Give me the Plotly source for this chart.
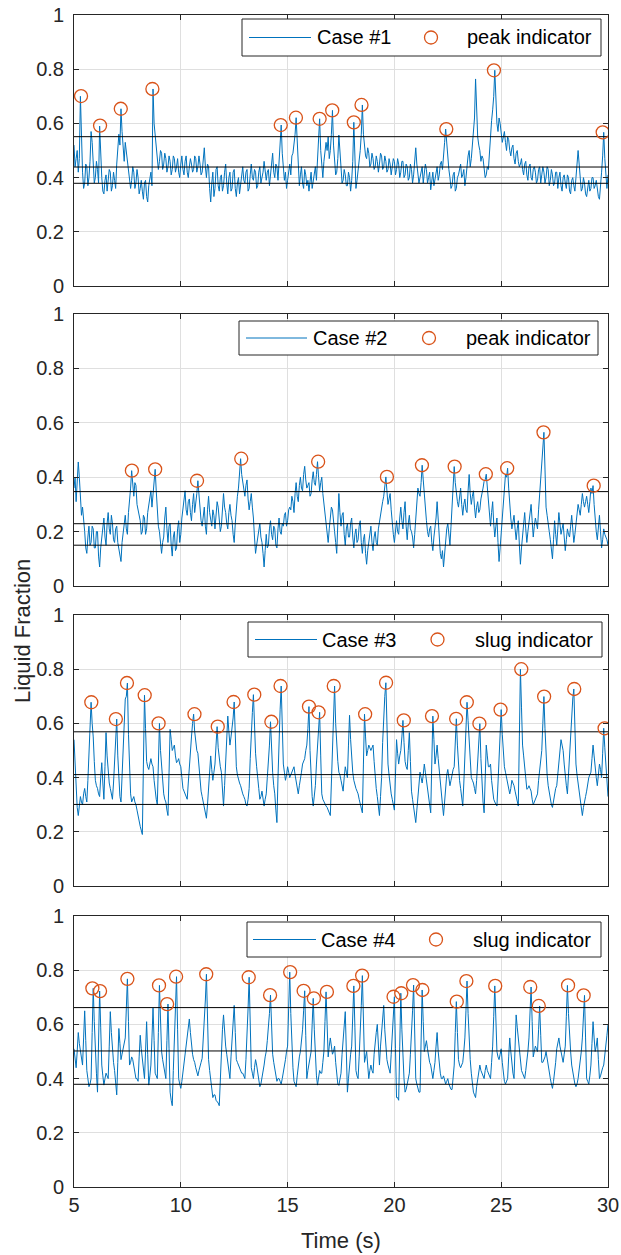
import plotly.graph_objects as go

# ---------------- data ----------------
# samples on the tenth of a second and on the half-tenths in between
time = [round(5.0 + 0.1 * i, 1) for i in range(251)]
time_half = [round(5.05 + 0.1 * i, 2) for i in range(250)]

case1 = [
    0.52, 0.47, 0.42, 0.70, 0.42, 0.38, 0.44, 0.40, 0.57, 0.45,
    0.40, 0.43, 0.59, 0.40, 0.34, 0.41, 0.38, 0.42, 0.37, 0.39,
    0.45, 0.56, 0.654, 0.50, 0.53, 0.47, 0.41, 0.39, 0.42, 0.38,
    0.40, 0.36, 0.35, 0.38, 0.33, 0.37, 0.42, 0.727, 0.55, 0.48,
    0.46, 0.49, 0.45, 0.47, 0.44, 0.46, 0.43, 0.47, 0.44, 0.42,
    0.45, 0.43, 0.46, 0.42, 0.44, 0.45, 0.43, 0.47, 0.44, 0.45,
    0.42, 0.51, 0.40, 0.44, 0.31, 0.42, 0.36, 0.44, 0.35, 0.41,
    0.37, 0.45, 0.34, 0.42, 0.36, 0.43, 0.33, 0.40, 0.37, 0.44,
    0.38, 0.43, 0.36, 0.45, 0.39, 0.42, 0.37, 0.44, 0.40, 0.46,
    0.39, 0.43, 0.41, 0.49, 0.40, 0.44, 0.47, 0.594, 0.44, 0.42,
    0.39, 0.45, 0.48, 0.52, 0.621, 0.45, 0.41, 0.38, 0.43, 0.37,
    0.35, 0.42, 0.39, 0.44, 0.48, 0.617, 0.44, 0.46, 0.53, 0.55,
    0.50, 0.648, 0.46, 0.42, 0.557, 0.44, 0.39, 0.41, 0.37, 0.40,
    0.39, 0.604, 0.36, 0.42, 0.50, 0.668, 0.52, 0.47, 0.49, 0.45,
    0.47, 0.44, 0.46, 0.45, 0.48, 0.44, 0.46, 0.43, 0.45, 0.44,
    0.46, 0.43, 0.45, 0.42, 0.46, 0.41, 0.44, 0.40, 0.43, 0.41,
    0.51, 0.42, 0.40, 0.44, 0.41, 0.43, 0.40, 0.355, 0.42, 0.40,
    0.44, 0.41, 0.46, 0.50, 0.579, 0.48, 0.40, 0.37, 0.42, 0.36,
    0.41, 0.45, 0.41, 0.37, 0.45, 0.50, 0.47, 0.55, 0.764, 0.55,
    0.50, 0.48, 0.44, 0.41, 0.43, 0.58, 0.65, 0.796, 0.60, 0.62,
    0.57, 0.55, 0.53, 0.55, 0.50, 0.51, 0.47, 0.49, 0.46, 0.45,
    0.43, 0.45, 0.41, 0.44, 0.40, 0.43, 0.42, 0.39, 0.44, 0.41,
    0.42, 0.40, 0.43, 0.39, 0.41, 0.38, 0.42, 0.40, 0.37, 0.40,
    0.38, 0.41, 0.35, 0.39, 0.37, 0.40, 0.50, 0.39, 0.36, 0.38,
    0.33, 0.39, 0.36, 0.40, 0.37, 0.35, 0.32, 0.42, 0.567, 0.39,
    0.41,
]
case1_half = [
    0.44, 0.50, 0.47, 0.52, 0.36, 0.45, 0.37, 0.46, 0.53, 0.38,
    0.46, 0.38, 0.47, 0.35, 0.39, 0.35, 0.43, 0.35, 0.42, 0.36,
    0.50, 0.52, 0.57, 0.46, 0.50, 0.42, 0.36, 0.44, 0.36, 0.43,
    0.34, 0.39, 0.32, 0.39, 0.31, 0.40, 0.37, 0.60, 0.50, 0.43,
    0.50, 0.43, 0.49, 0.42, 0.48, 0.41, 0.48, 0.42, 0.47, 0.40,
    0.48, 0.41, 0.48, 0.40, 0.47, 0.42, 0.48, 0.42, 0.48, 0.41,
    0.47, 0.44, 0.45, 0.36, 0.38, 0.33, 0.43, 0.37, 0.40, 0.35,
    0.42, 0.38, 0.40, 0.35, 0.42, 0.36, 0.38, 0.34, 0.42, 0.39,
    0.42, 0.35, 0.41, 0.40, 0.43, 0.36, 0.42, 0.38, 0.42, 0.43,
    0.42, 0.37, 0.45, 0.42, 0.45, 0.39, 0.52, 0.49, 0.39, 0.36,
    0.43, 0.41, 0.49, 0.56, 0.52, 0.37, 0.44, 0.36, 0.41, 0.39,
    0.40, 0.36, 0.43, 0.39, 0.53, 0.50, 0.40, 0.50, 0.50, 0.47,
    0.56, 0.52, 0.41, 0.47, 0.48, 0.38, 0.43, 0.37, 0.42, 0.35,
    0.46, 0.44, 0.39, 0.46, 0.56, 0.56, 0.48, 0.51, 0.44, 0.49,
    0.43, 0.48, 0.42, 0.49, 0.43, 0.48, 0.42, 0.47, 0.41, 0.47,
    0.41, 0.47, 0.40, 0.46, 0.40, 0.45, 0.39, 0.45, 0.38, 0.45,
    0.45, 0.38, 0.43, 0.38, 0.45, 0.38, 0.42, 0.38, 0.37, 0.43,
    0.39, 0.45, 0.43, 0.53, 0.52, 0.43, 0.36, 0.41, 0.35, 0.40,
    0.44, 0.40, 0.43, 0.40, 0.48, 0.44, 0.52, 0.62, 0.63, 0.52,
    0.46, 0.47, 0.40, 0.44, 0.50, 0.61, 0.70, 0.68, 0.57, 0.60,
    0.53, 0.57, 0.50, 0.54, 0.48, 0.52, 0.45, 0.50, 0.44, 0.47,
    0.41, 0.46, 0.39, 0.45, 0.39, 0.44, 0.38, 0.43, 0.38, 0.44,
    0.38, 0.44, 0.37, 0.43, 0.37, 0.42, 0.36, 0.42, 0.35, 0.41,
    0.36, 0.40, 0.34, 0.40, 0.35, 0.44, 0.45, 0.35, 0.40, 0.34,
    0.37, 0.35, 0.40, 0.36, 0.39, 0.33, 0.36, 0.48, 0.47, 0.36,
]

case2 = [
    0.36, 0.31, 0.456, 0.33, 0.29, 0.20, 0.12, 0.22, 0.16, 0.21,
    0.14, 0.20, 0.07, 0.18, 0.25, 0.15, 0.27, 0.19, 0.23, 0.16,
    0.22, 0.14, 0.09, 0.20, 0.26, 0.19, 0.31, 0.424, 0.33, 0.37,
    0.28, 0.24, 0.20, 0.25, 0.21, 0.30, 0.35, 0.33, 0.429, 0.27,
    0.20, 0.12, 0.18, 0.29, 0.16, 0.23, 0.11, 0.20, 0.14, 0.24,
    0.19, 0.28, 0.35, 0.26, 0.32, 0.24, 0.34, 0.30, 0.387, 0.30,
    0.22, 0.29, 0.19, 0.33, 0.24, 0.28, 0.21, 0.31, 0.25, 0.22,
    0.34, 0.27, 0.21, 0.30, 0.24, 0.16, 0.29, 0.36, 0.468, 0.38,
    0.33, 0.39, 0.28, 0.34, 0.25, 0.12, 0.18, 0.23, 0.16, 0.07,
    0.19, 0.15, 0.24, 0.17, 0.21, 0.14, 0.25, 0.19, 0.22, 0.27,
    0.24, 0.29, 0.33, 0.27, 0.38, 0.31, 0.40, 0.35, 0.44, 0.36,
    0.38, 0.34, 0.42, 0.37, 0.457, 0.35, 0.40, 0.30, 0.23, 0.16,
    0.25, 0.28, 0.20, 0.12, 0.34, 0.22, 0.27, 0.15, 0.23, 0.18,
    0.25, 0.14, 0.21, 0.17, 0.24, 0.12, 0.19, 0.08, 0.16, 0.22,
    0.13, 0.20, 0.15, 0.24, 0.29, 0.33, 0.401, 0.30, 0.34, 0.22,
    0.16, 0.24, 0.19, 0.29, 0.21, 0.31, 0.17, 0.26, 0.20, 0.14,
    0.25, 0.36, 0.33, 0.444, 0.33, 0.24, 0.18, 0.22, 0.13, 0.21,
    0.31, 0.16, 0.10, 0.07, 0.18, 0.23, 0.15, 0.28, 0.439, 0.34,
    0.29, 0.36, 0.26, 0.32, 0.27, 0.41, 0.30, 0.35, 0.25, 0.31,
    0.28, 0.35, 0.385, 0.411, 0.30, 0.22, 0.31, 0.18, 0.25, 0.09,
    0.20, 0.33, 0.41, 0.433, 0.29, 0.21, 0.26, 0.17, 0.24, 0.08,
    0.19, 0.27, 0.16, 0.23, 0.30, 0.18, 0.25, 0.21, 0.34, 0.45,
    0.565, 0.29, 0.22, 0.17, 0.10, 0.24, 0.15, 0.27, 0.19, 0.23,
    0.13, 0.21, 0.18, 0.26, 0.16, 0.22, 0.30, 0.26, 0.34, 0.29,
    0.33, 0.27, 0.36, 0.369, 0.24, 0.17, 0.26, 0.14, 0.21, 0.18,
    0.15,
]
case2_half = [
    0.40, 0.38, 0.40, 0.26, 0.25, 0.14, 0.18, 0.15, 0.22, 0.14,
    0.20, 0.11, 0.14, 0.23, 0.18, 0.23, 0.21, 0.26, 0.17, 0.21,
    0.16, 0.11, 0.16, 0.24, 0.21, 0.27, 0.36, 0.37, 0.38, 0.30,
    0.25, 0.19, 0.26, 0.19, 0.27, 0.34, 0.29, 0.38, 0.35, 0.22,
    0.15, 0.16, 0.25, 0.21, 0.22, 0.15, 0.18, 0.13, 0.21, 0.16,
    0.25, 0.33, 0.28, 0.31, 0.27, 0.30, 0.27, 0.34, 0.33, 0.24,
    0.27, 0.22, 0.28, 0.27, 0.22, 0.26, 0.25, 0.29, 0.20, 0.30,
    0.29, 0.23, 0.27, 0.26, 0.19, 0.23, 0.33, 0.40, 0.41, 0.35,
    0.37, 0.32, 0.31, 0.29, 0.18, 0.15, 0.22, 0.18, 0.12, 0.13,
    0.14, 0.21, 0.19, 0.22, 0.15, 0.21, 0.20, 0.23, 0.26, 0.22,
    0.28, 0.28, 0.31, 0.34, 0.33, 0.37, 0.36, 0.41, 0.39, 0.37,
    0.33, 0.39, 0.38, 0.41, 0.40, 0.38, 0.34, 0.27, 0.19, 0.21,
    0.29, 0.22, 0.16, 0.23, 0.27, 0.26, 0.19, 0.21, 0.18, 0.23,
    0.18, 0.19, 0.16, 0.22, 0.16, 0.17, 0.12, 0.13, 0.20, 0.16,
    0.18, 0.16, 0.21, 0.25, 0.31, 0.36, 0.35, 0.32, 0.28, 0.19,
    0.21, 0.20, 0.25, 0.24, 0.27, 0.22, 0.23, 0.21, 0.18, 0.19,
    0.30, 0.34, 0.38, 0.39, 0.28, 0.20, 0.21, 0.16, 0.18, 0.25,
    0.24, 0.12, 0.13, 0.12, 0.21, 0.18, 0.22, 0.36, 0.38, 0.31,
    0.33, 0.30, 0.30, 0.28, 0.35, 0.34, 0.33, 0.29, 0.29, 0.27,
    0.32, 0.36, 0.39, 0.36, 0.26, 0.27, 0.23, 0.22, 0.16, 0.14,
    0.27, 0.37, 0.40, 0.36, 0.25, 0.24, 0.21, 0.21, 0.15, 0.14,
    0.23, 0.21, 0.20, 0.27, 0.24, 0.22, 0.23, 0.28, 0.39, 0.50,
    0.43, 0.26, 0.20, 0.13, 0.17, 0.19, 0.21, 0.23, 0.21, 0.18,
    0.17, 0.19, 0.22, 0.21, 0.19, 0.26, 0.28, 0.30, 0.31, 0.31,
    0.30, 0.31, 0.34, 0.30, 0.20, 0.21, 0.20, 0.17, 0.19, 0.17,
]

case3 = [
    0.54, 0.34, 0.26, 0.33, 0.30, 0.36, 0.31, 0.47, 0.678, 0.55,
    0.39, 0.36, 0.33, 0.455, 0.32, 0.566, 0.42, 0.36, 0.32, 0.45,
    0.616, 0.37, 0.31, 0.54, 0.69, 0.749, 0.39, 0.31, 0.33, 0.30,
    0.25, 0.22, 0.19, 0.704, 0.46, 0.43, 0.47, 0.44, 0.34, 0.30,
    0.600, 0.44, 0.34, 0.31, 0.26, 0.578, 0.50, 0.52, 0.455, 0.47,
    0.44, 0.36, 0.34, 0.32, 0.45, 0.55, 0.634, 0.52, 0.49, 0.38,
    0.33, 0.295, 0.25, 0.35, 0.48, 0.39, 0.45, 0.588, 0.46, 0.42,
    0.295, 0.45, 0.627, 0.52, 0.58, 0.679, 0.44, 0.39, 0.37, 0.34,
    0.32, 0.295, 0.36, 0.578, 0.706, 0.49, 0.41, 0.32, 0.35, 0.295,
    0.34, 0.45, 0.606, 0.42, 0.34, 0.234, 0.566, 0.738, 0.45, 0.39,
    0.44, 0.40, 0.42, 0.44, 0.38, 0.34, 0.39, 0.45, 0.47, 0.52,
    0.662, 0.38, 0.295, 0.37, 0.52, 0.641, 0.34, 0.31, 0.295, 0.28,
    0.26, 0.50, 0.738, 0.50, 0.42, 0.39, 0.35, 0.44, 0.40, 0.63,
    0.46, 0.39, 0.36, 0.34, 0.30, 0.27, 0.634, 0.48, 0.52, 0.50,
    0.52, 0.40, 0.33, 0.26, 0.40, 0.66, 0.750, 0.45, 0.37, 0.32,
    0.28, 0.54, 0.45, 0.50, 0.611, 0.46, 0.43, 0.566, 0.35, 0.295,
    0.234, 0.33, 0.42, 0.38, 0.45, 0.39, 0.31, 0.27, 0.627, 0.45,
    0.52, 0.42, 0.34, 0.26, 0.39, 0.43, 0.37, 0.42, 0.44, 0.617,
    0.42, 0.36, 0.295, 0.47, 0.678, 0.54, 0.40, 0.38, 0.34, 0.45,
    0.599, 0.35, 0.27, 0.52, 0.44, 0.45, 0.34, 0.31, 0.295, 0.46,
    0.651, 0.47, 0.42, 0.38, 0.34, 0.39, 0.37, 0.33, 0.295, 0.800,
    0.52, 0.44, 0.357, 0.37, 0.35, 0.30, 0.32, 0.34, 0.43, 0.50,
    0.699, 0.46, 0.37, 0.32, 0.29, 0.35, 0.37, 0.45, 0.54, 0.50,
    0.40, 0.34, 0.48, 0.66, 0.727, 0.45, 0.38, 0.30, 0.26, 0.32,
    0.35, 0.40, 0.42, 0.52, 0.43, 0.37, 0.45, 0.40, 0.582, 0.45,
    0.33,
]
case3_half = [
    0.44, 0.29, 0.30, 0.31, 0.34, 0.33, 0.39, 0.58, 0.60, 0.46,
    0.37, 0.34, 0.40, 0.38, 0.44, 0.48, 0.38, 0.34, 0.38, 0.53,
    0.48, 0.33, 0.42, 0.62, 0.70, 0.56, 0.34, 0.32, 0.31, 0.28,
    0.24, 0.20, 0.45, 0.58, 0.44, 0.45, 0.45, 0.39, 0.32, 0.44,
    0.50, 0.39, 0.32, 0.28, 0.42, 0.54, 0.51, 0.48, 0.46, 0.45,
    0.40, 0.35, 0.33, 0.38, 0.50, 0.60, 0.57, 0.50, 0.43, 0.35,
    0.31, 0.27, 0.30, 0.42, 0.43, 0.42, 0.52, 0.51, 0.44, 0.35,
    0.37, 0.54, 0.57, 0.55, 0.62, 0.55, 0.41, 0.38, 0.35, 0.33,
    0.30, 0.32, 0.47, 0.64, 0.59, 0.44, 0.36, 0.33, 0.31, 0.32,
    0.40, 0.52, 0.50, 0.37, 0.28, 0.40, 0.65, 0.58, 0.42, 0.41,
    0.42, 0.41, 0.43, 0.41, 0.36, 0.37, 0.42, 0.46, 0.50, 0.58,
    0.50, 0.33, 0.33, 0.45, 0.58, 0.48, 0.32, 0.30, 0.29, 0.27,
    0.38, 0.62, 0.60, 0.46, 0.41, 0.37, 0.40, 0.42, 0.52, 0.54,
    0.42, 0.37, 0.35, 0.32, 0.29, 0.45, 0.55, 0.50, 0.51, 0.51,
    0.46, 0.36, 0.29, 0.33, 0.53, 0.70, 0.60, 0.41, 0.34, 0.30,
    0.41, 0.49, 0.48, 0.55, 0.53, 0.44, 0.50, 0.46, 0.32, 0.26,
    0.28, 0.37, 0.40, 0.41, 0.42, 0.35, 0.29, 0.45, 0.54, 0.48,
    0.47, 0.38, 0.30, 0.32, 0.41, 0.40, 0.39, 0.43, 0.53, 0.52,
    0.39, 0.33, 0.38, 0.57, 0.61, 0.47, 0.39, 0.36, 0.39, 0.52,
    0.47, 0.31, 0.40, 0.48, 0.44, 0.39, 0.32, 0.30, 0.38, 0.56,
    0.56, 0.44, 0.40, 0.36, 0.36, 0.38, 0.35, 0.31, 0.55, 0.66,
    0.48, 0.40, 0.36, 0.36, 0.32, 0.31, 0.33, 0.39, 0.46, 0.60,
    0.58, 0.41, 0.34, 0.30, 0.32, 0.36, 0.41, 0.50, 0.52, 0.45,
    0.37, 0.41, 0.57, 0.69, 0.59, 0.41, 0.34, 0.28, 0.29, 0.33,
    0.38, 0.41, 0.47, 0.48, 0.40, 0.41, 0.43, 0.49, 0.51, 0.39,
]

case4 = [
    0.51, 0.44, 0.57, 0.50, 0.45, 0.65, 0.43, 0.37, 0.40, 0.733,
    0.49, 0.35, 0.723, 0.45, 0.376, 0.42, 0.40, 0.647, 0.50, 0.43,
    0.34, 0.585, 0.47, 0.51, 0.55, 0.768, 0.45, 0.48, 0.45, 0.40,
    0.39, 0.56, 0.47, 0.40, 0.61, 0.376, 0.45, 0.66, 0.42, 0.40,
    0.744, 0.50, 0.45, 0.40, 0.675, 0.35, 0.30, 0.56, 0.776, 0.40,
    0.364, 0.42, 0.50, 0.56, 0.62, 0.52, 0.47, 0.44, 0.41, 0.45,
    0.475, 0.60, 0.785, 0.47, 0.40, 0.33, 0.34, 0.315, 0.30, 0.52,
    0.635, 0.52, 0.46, 0.40, 0.55, 0.67, 0.47, 0.45, 0.43, 0.42,
    0.40, 0.55, 0.774, 0.44, 0.40, 0.47, 0.42, 0.37, 0.40, 0.45,
    0.50, 0.58, 0.708, 0.49, 0.43, 0.39, 0.40, 0.38, 0.42, 0.47,
    0.52, 0.793, 0.50, 0.39, 0.37, 0.45, 0.50, 0.58, 0.724, 0.40,
    0.46, 0.50, 0.696, 0.46, 0.376, 0.43, 0.42, 0.50, 0.720, 0.48,
    0.55, 0.49, 0.52, 0.40, 0.375, 0.42, 0.55, 0.647, 0.35, 0.46,
    0.52, 0.742, 0.43, 0.40, 0.55, 0.780, 0.46, 0.50, 0.40, 0.45,
    0.42, 0.55, 0.60, 0.45, 0.58, 0.67, 0.50, 0.45, 0.42, 0.55,
    0.702, 0.33, 0.32, 0.715, 0.45, 0.35, 0.38, 0.42, 0.55, 0.745,
    0.40, 0.36, 0.35, 0.727, 0.50, 0.54, 0.48, 0.45, 0.40, 0.46,
    0.57, 0.44, 0.40, 0.41, 0.38, 0.40, 0.37, 0.36, 0.45, 0.684,
    0.47, 0.44, 0.46, 0.55, 0.760, 0.52, 0.42, 0.35, 0.33, 0.40,
    0.45, 0.42, 0.40, 0.45, 0.42, 0.40, 0.52, 0.742, 0.50, 0.47,
    0.51, 0.41, 0.38, 0.40, 0.55, 0.44, 0.40, 0.635, 0.55, 0.45,
    0.42, 0.40, 0.46, 0.55, 0.738, 0.48, 0.52, 0.50, 0.668, 0.46,
    0.47, 0.50, 0.44, 0.40, 0.364, 0.42, 0.51, 0.55, 0.50, 0.46,
    0.52, 0.744, 0.55, 0.45, 0.40, 0.37, 0.40, 0.45, 0.55, 0.707,
    0.40, 0.38, 0.45, 0.61, 0.50, 0.55, 0.40, 0.43, 0.45, 0.52,
    0.60,
]
case4_half = [
    0.47, 0.50, 0.53, 0.47, 0.55, 0.54, 0.40, 0.38, 0.57, 0.61,
    0.42, 0.54, 0.59, 0.41, 0.40, 0.41, 0.52, 0.57, 0.46, 0.38,
    0.46, 0.53, 0.49, 0.53, 0.66, 0.61, 0.46, 0.47, 0.42, 0.40,
    0.48, 0.51, 0.43, 0.50, 0.49, 0.41, 0.55, 0.54, 0.41, 0.57,
    0.62, 0.47, 0.42, 0.54, 0.51, 0.32, 0.43, 0.67, 0.58, 0.38,
    0.39, 0.46, 0.53, 0.59, 0.57, 0.49, 0.46, 0.42, 0.43, 0.46,
    0.54, 0.69, 0.62, 0.43, 0.36, 0.34, 0.32, 0.31, 0.41, 0.58,
    0.57, 0.49, 0.43, 0.48, 0.61, 0.57, 0.46, 0.44, 0.42, 0.41,
    0.47, 0.66, 0.60, 0.42, 0.44, 0.45, 0.39, 0.38, 0.43, 0.48,
    0.54, 0.64, 0.60, 0.46, 0.41, 0.40, 0.39, 0.40, 0.45, 0.50,
    0.66, 0.64, 0.44, 0.38, 0.41, 0.48, 0.54, 0.65, 0.56, 0.43,
    0.48, 0.60, 0.58, 0.41, 0.40, 0.42, 0.46, 0.61, 0.60, 0.52,
    0.52, 0.50, 0.46, 0.38, 0.40, 0.49, 0.60, 0.50, 0.40, 0.49,
    0.63, 0.59, 0.41, 0.48, 0.67, 0.62, 0.48, 0.45, 0.43, 0.43,
    0.49, 0.57, 0.52, 0.52, 0.62, 0.58, 0.47, 0.43, 0.49, 0.63,
    0.51, 0.33, 0.52, 0.58, 0.40, 0.36, 0.40, 0.49, 0.65, 0.57,
    0.38, 0.35, 0.54, 0.61, 0.52, 0.51, 0.46, 0.42, 0.43, 0.52,
    0.50, 0.42, 0.40, 0.39, 0.39, 0.38, 0.36, 0.40, 0.57, 0.57,
    0.45, 0.45, 0.50, 0.65, 0.64, 0.47, 0.38, 0.34, 0.37, 0.43,
    0.43, 0.41, 0.43, 0.43, 0.41, 0.46, 0.63, 0.62, 0.48, 0.49,
    0.46, 0.39, 0.39, 0.48, 0.50, 0.42, 0.52, 0.59, 0.50, 0.43,
    0.41, 0.43, 0.50, 0.64, 0.61, 0.50, 0.51, 0.58, 0.56, 0.46,
    0.48, 0.47, 0.42, 0.38, 0.39, 0.46, 0.53, 0.52, 0.48, 0.49,
    0.63, 0.64, 0.50, 0.42, 0.38, 0.38, 0.43, 0.50, 0.63, 0.55,
    0.39, 0.41, 0.53, 0.55, 0.52, 0.47, 0.41, 0.44, 0.48, 0.56,
]

peak1_t = [5.33, 6.22, 7.19, 8.67, 14.68, 15.39, 16.50, 17.09, 18.10, 18.46, 22.43, 24.66, 29.75]
peak1_v = [0.701, 0.592, 0.654, 0.727, 0.594, 0.621, 0.617, 0.648, 0.604, 0.668, 0.579, 0.796, 0.567]

peak2_t = [7.71, 8.80, 10.76, 12.83, 16.43, 19.65, 21.29, 22.82, 24.28, 25.28, 26.98, 29.33]
peak2_v = [0.424, 0.429, 0.387, 0.468, 0.457, 0.401, 0.444, 0.439, 0.411, 0.433, 0.565, 0.369]

peak3_t = [5.81, 6.96, 7.48, 8.31, 8.96, 10.64, 11.73, 12.47, 13.44, 14.24, 14.67, 16.00, 16.45,
           17.16, 18.63, 19.61, 20.44, 21.76, 22.89, 23.39, 23.98, 24.97, 25.94, 27.01, 28.42, 29.84]
peak3_v = [0.678, 0.616, 0.749, 0.704, 0.600, 0.634, 0.588, 0.679, 0.706, 0.606, 0.738, 0.662, 0.641,
           0.738, 0.634, 0.750, 0.611, 0.627, 0.617, 0.678, 0.599, 0.651, 0.800, 0.699, 0.727, 0.582]

peak4_t = [5.86, 6.22, 7.50, 8.98, 9.36, 9.78, 11.19, 13.18, 14.18, 15.12, 15.75, 16.23, 16.84,
           18.08, 18.49, 19.96, 20.32, 20.87, 21.31, 22.92, 23.37, 24.72, 26.36, 26.76, 28.13, 28.86]
peak4_v = [0.733, 0.723, 0.768, 0.744, 0.675, 0.776, 0.785, 0.774, 0.708, 0.793, 0.724, 0.696, 0.720,
           0.742, 0.780, 0.702, 0.715, 0.745, 0.727, 0.684, 0.760, 0.742, 0.738, 0.668, 0.744, 0.707]

levels1 = [0.551, 0.439, 0.379]
levels2 = [0.347, 0.229, 0.150]
levels3 = [0.569, 0.411, 0.301]
levels4 = [0.662, 0.502, 0.379]

series_names = ["Case #1", "Case #2", "Case #3", "Case #4"]
marker_names = ["peak indicator", "peak indicator", "slug indicator", "slug indicator"]

x_ticks = [5, 10, 15, 20, 25, 30]
y_ticks = [0, 0.2, 0.4, 0.6, 0.8, 1]
y_ticktext = ["0", "0.2", "0.4", "0.6", "0.8", "1"]


def interleave(full, half):
    out = []
    for k in range(len(half)):
        out.append(full[k])
        out.append(half[k])
    out.append(full[-1])
    return out


# ---------------- layout geometry (pixels) ----------------
FIG_W, FIG_H = 621, 1255
ML, MR, MT, MB = 74, 13, 15, 68
PW = FIG_W - ML - MR
PH = FIG_H - MT - MB

def px(x):
    return (x - ML) / PW

def py(y):
    return (FIG_H - MB - y) / PH

panel_px = [(15, 286), (314, 586), (615, 886), (916, 1187)]

legend_px = [
    dict(box=(242, 19, 601, 56), lx=(249, 311), t1=317, cx=431, t2=467),
    dict(box=(239, 321, 598, 355), lx=(246, 307), t1=313, cx=429, t2=466),
    dict(box=(248, 622, 602, 657), lx=(255, 317), t1=322, cx=437.5, t2=475),
    dict(box=(247, 922, 601, 957), lx=(253, 316), t1=321, cx=436, t2=473),
]

BLUE = "#0072BD"
ORANGE = "#D95319"
AX = "#262626"
GRID = "#dfdfdf"
FONT = "Liberation Sans, Arial, Helvetica, sans-serif"

t_all = interleave(time, time_half)
cases = [interleave(case1, case1_half), interleave(case2, case2_half),
         interleave(case3, case3_half), interleave(case4, case4_half)]
peaks_t = [peak1_t, peak2_t, peak3_t, peak4_t]
peaks_v = [peak1_v, peak2_v, peak3_v, peak4_v]
levels = [levels1, levels2, levels3, levels4]

fig = go.Figure()

for i in range(4):
    xa = "x" if i == 0 else f"x{i+1}"
    ya = "y" if i == 0 else f"y{i+1}"
    fig.add_trace(go.Scatter(x=t_all, y=cases[i], mode="lines",
                             line=dict(color=BLUE, width=1), xaxis=xa, yaxis=ya,
                             showlegend=False, hoverinfo="skip"))
    for lv in levels[i]:
        fig.add_trace(go.Scatter(x=[x_ticks[0], x_ticks[-1]], y=[lv, lv], mode="lines",
                                 line=dict(color="black", width=1), xaxis=xa, yaxis=ya,
                                 showlegend=False, hoverinfo="skip"))
    fig.add_trace(go.Scatter(x=peaks_t[i], y=peaks_v[i], mode="markers",
                             marker=dict(symbol="circle-open", size=13, color=ORANGE,
                                         line=dict(width=1.3, color=ORANGE)),
                             xaxis=xa, yaxis=ya, showlegend=False, hoverinfo="skip"))

layout = dict(
    width=FIG_W, height=FIG_H, autosize=False,
    margin=dict(l=ML, r=MR, t=MT, b=MB, autoexpand=False),
    paper_bgcolor="white", plot_bgcolor="white",
    font=dict(family=FONT, size=20, color=AX),
    showlegend=False,
)

for i in range(4):
    top, bot = panel_px[i]
    xk = "xaxis" if i == 0 else f"xaxis{i+1}"
    yk = "yaxis" if i == 0 else f"yaxis{i+1}"
    ya = "y" if i == 0 else f"y{i+1}"
    xa = "x" if i == 0 else f"x{i+1}"
    layout[xk] = dict(
        domain=[0, 1], anchor=ya, range=[5, 30], tickvals=x_ticks,
        showgrid=True, gridcolor=GRID, gridwidth=1, zeroline=False,
        ticks="inside", ticklen=5, tickcolor=AX, tickwidth=1,
        showline=True, linecolor=AX, linewidth=1, mirror="ticks",
        showticklabels=(i == 3), ticklabelstandoff=0, automargin=False,
        tickfont=dict(size=20, color=AX, family=FONT),
    )
    layout[yk] = dict(
        domain=[py(bot), py(top)], anchor=xa, range=[0, 1],
        tickvals=y_ticks, ticktext=y_ticktext,
        showgrid=True, gridcolor=GRID, gridwidth=1, zeroline=False,
        ticks="inside", ticklen=5, tickcolor=AX, tickwidth=1,
        showline=True, linecolor=AX, linewidth=1, mirror="ticks",
        ticklabelstandoff=5, automargin=False,
        tickfont=dict(size=20, color=AX, family=FONT),
    )

fig.update_layout(**layout)

shapes = []
annotations = []
for i in range(4):
    lg = legend_px[i]
    bx0, by0, bx1, by1 = lg["box"]
    cy = (by0 + by1) / 2
    shapes.append(dict(type="rect", xref="paper", yref="paper",
                       x0=px(bx0), x1=px(bx1), y0=py(by1), y1=py(by0),
                       line=dict(color=AX, width=1), fillcolor="white", layer="above"))
    shapes.append(dict(type="line", xref="paper", yref="paper",
                       x0=px(lg["lx"][0]), x1=px(lg["lx"][1]), y0=py(cy), y1=py(cy),
                       line=dict(color=BLUE, width=1), layer="above"))
    r = 6.5
    shapes.append(dict(type="circle", xref="paper", yref="paper",
                       x0=px(lg["cx"] - r), x1=px(lg["cx"] + r), y0=py(cy + r), y1=py(cy - r),
                       line=dict(color=ORANGE, width=1.3), layer="above"))
    annotations.append(dict(text=series_names[i], xref="paper", yref="paper",
                            x=px(lg["t1"] - 2), y=py(cy), xanchor="left", yanchor="middle",
                            showarrow=False, font=dict(size=20, color="black", family=FONT)))
    annotations.append(dict(text=marker_names[i], xref="paper", yref="paper",
                            x=px(lg["t2"] - 2), y=py(cy), xanchor="left", yanchor="middle",
                            showarrow=False, font=dict(size=20, color="black", family=FONT)))

annotations.append(dict(text="Liquid Fraction", xref="paper", yref="paper",
                        x=px(22), y=py(631), xanchor="center", yanchor="middle",
                        textangle=-90, showarrow=False,
                        font=dict(size=22, color=AX, family=FONT)))
annotations.append(dict(text="Time (s)", xref="paper", yref="paper",
                        x=px(341), y=py(1240), xanchor="center", yanchor="middle",
                        showarrow=False, font=dict(size=22, color=AX, family=FONT)))

fig.update_layout(shapes=shapes, annotations=annotations)
fig.write_html("out.html")
